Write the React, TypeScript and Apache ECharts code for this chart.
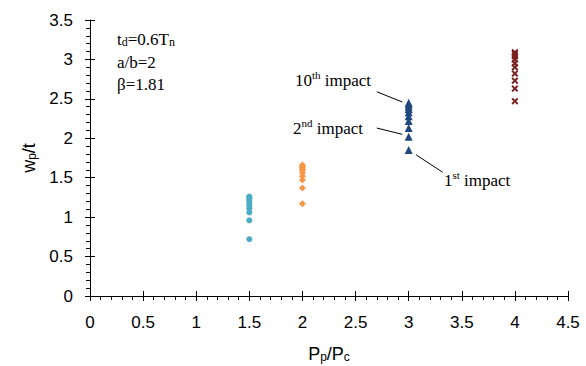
import React, { useEffect, useRef } from "react";
import * as echarts from "echarts";

const xTicks = [0, 0.5, 1, 1.5, 2, 2.5, 3, 3.5, 4, 4.5];
const circleX = 1.5;
const circleY = [0.72, 0.96, 1.06, 1.11, 1.15, 1.18, 1.21, 1.23, 1.25, 1.26];
const diamondX = 2;
const diamondY = [1.17, 1.37, 1.47, 1.52, 1.56, 1.59, 1.61, 1.63, 1.65, 1.66];
const triangleX = 3;
const triangleY = [1.85, 2.02, 2.13, 2.22, 2.28, 2.33, 2.37, 2.4, 2.43, 2.45];
const crossX = 4;
const crossY = [2.47, 2.63, 2.73, 2.82, 2.9, 2.95, 3.0, 3.04, 3.07, 3.09];

const arrows = [
  [[2.70, 2.59], [2.94, 2.46]],
  [[2.70, 2.13], [2.94, 2.05]],
  [[3.32, 1.57], [3.07, 1.79]],
];

const SERIF = "Liberation Serif";
const SANS = "Liberation Sans";
const CROSS =
  "path://M0,2 L2,0 L5,3 L8,0 L10,2 L7,5 L10,8 L8,10 L5,7 L2,10 L0,8 L3,5 Z";

const pts = (x: number, ys: number[]) => ys.map((y) => [x, y]);

export default function App() {
  const ref = useRef<HTMLDivElement>(null);
  useEffect(() => {
    document.body.style.margin = "0";
    if (!ref.current) return;
    const chart = echarts.init(ref.current, null, { renderer: "svg" });
    const richBase = {
      m: { fontFamily: SERIF, fontSize: 17, color: "#111", lineHeight: 20, verticalAlign: "bottom" },
      sup: { fontFamily: SERIF, fontSize: 11, color: "#111", verticalAlign: "top", lineHeight: 20 },
      sub: { fontFamily: SERIF, fontSize: 12, color: "#111", verticalAlign: "bottom", lineHeight: 16 },
    };
    const axisCommon = {
      axisLine: { lineStyle: { color: "#000", width: 1 } },
      splitLine: { show: false },
      axisLabel: { fontFamily: SANS, fontSize: 17, color: "#000" },
    };
    chart.setOption({
      animation: false,
      backgroundColor: "#fff",
      grid: { left: 90, right: 18, top: 20, bottom: 70, outerBoundsMode: "none", containLabel: false },
      xAxis: [
        {
          ...axisCommon,
          type: "value",
          min: 0,
          max: 4.5,
          interval: 0.5,
          axisTick: { show: true, length: 5, lineStyle: { color: "#000" } },
          minorTick: { show: true, splitNumber: 5, length: 4, lineStyle: { color: "#000" } },
          axisLabel: { ...axisCommon.axisLabel, margin: 18, formatter: (v: number) => String(v) },
          name: "{m|P}{s|p}{m|/P}{s|c}",
          nameLocation: "middle",
          nameGap: 47,
          nameTextStyle: {
            rich: {
              m: { fontFamily: SANS, fontSize: 18, color: "#000", verticalAlign: "bottom", lineHeight: 20 },
              s: { fontFamily: SANS, fontSize: 12, color: "#000", verticalAlign: "bottom", lineHeight: 14 },
            },
          },
        },
        {
          type: "value",
          min: 0,
          max: 4.5,
          interval: 0.5,
          position: "bottom",
          axisLine: { show: false },
          axisTick: { show: true, inside: true, length: 5, lineStyle: { color: "#000" } },
          axisLabel: { show: false },
          splitLine: { show: false },
        },
      ],
      yAxis: [
        {
          ...axisCommon,
          type: "value",
          min: 0,
          max: 3.5,
          interval: 0.5,
          axisTick: { show: true, length: 5, lineStyle: { color: "#000" } },
          minorTick: { show: true, splitNumber: 5, length: 4, lineStyle: { color: "#000" } },
          axisLabel: { ...axisCommon.axisLabel, margin: 17, formatter: (v: number) => String(v) },
          name: "{m|w}{s|p}{m|/t}",
          nameLocation: "middle",
          nameRotate: 90,
          nameGap: 50,
          nameTextStyle: {
            rich: {
              m: { fontFamily: SANS, fontSize: 18, color: "#000", verticalAlign: "bottom", lineHeight: 20 },
              s: { fontFamily: SANS, fontSize: 12, color: "#000", verticalAlign: "bottom", lineHeight: 14 },
            },
          },
        },
        {
          type: "value",
          min: 0,
          max: 3.5,
          interval: 0.5,
          position: "left",
          axisLine: { show: false },
          axisTick: { show: true, inside: true, length: 5, lineStyle: { color: "#000" } },
          axisLabel: { show: false },
          splitLine: { show: false },
        },
      ],
      series: [
        {
          type: "scatter",
          data: pts(circleX, circleY),
          symbol: "circle",
          symbolSize: 6,
          itemStyle: { color: "#4BACC6", opacity: 1 },
        },
        {
          type: "scatter",
          data: pts(diamondX, diamondY),
          symbol: "diamond",
          symbolSize: 7,
          itemStyle: { color: "#F79646", opacity: 1 },
        },
        {
          type: "scatter",
          data: pts(triangleX, triangleY),
          symbol: "triangle",
          symbolSize: 8,
          itemStyle: { color: "#1F497D", opacity: 1 },
          markLine: {
            silent: true,
            symbol: ["none", "arrow"],
            symbolSize: [0, 10],
            label: { show: false },
            lineStyle: { color: "#000", width: 1, type: "solid" },
            data: arrows.map(([a, b]) => [{ coord: a }, { coord: b }]),
          },
        },
        {
          type: "scatter",
          data: pts(crossX, crossY),
          symbol: CROSS,
          symbolSize: 7,
          itemStyle: { color: "#7A1F1F", opacity: 1 },
        },
      ],
      graphic: [
        {
          type: "text",
          left: 117,
          top: 31,
          style: {
            text: "{m|t}{sub|d}{m|=0.6T}{sub|n}",
            rich: richBase,
          },
        },
        {
          type: "text",
          left: 117,
          top: 54,
          style: { text: "{m|a/b=2}", rich: richBase },
        },
        {
          type: "text",
          left: 117,
          top: 76,
          style: { text: "{m|β=1.81}", rich: richBase },
        },
        {
          type: "text",
          left: 295,
          top: 69,
          style: { text: "{m|10}{sup|th}{m| impact}", rich: richBase },
        },
        {
          type: "text",
          left: 293,
          top: 117,
          style: { text: "{m|2}{sup|nd}{m| impact}", rich: richBase },
        },
        {
          type: "text",
          left: 444,
          top: 169,
          style: { text: "{m|1}{sup|st}{m| impact}", rich: richBase },
        },
      ],
    });
    return () => chart.dispose();
  }, []);
  return <div ref={ref} style={{ width: 586, height: 366 }} />;
}
